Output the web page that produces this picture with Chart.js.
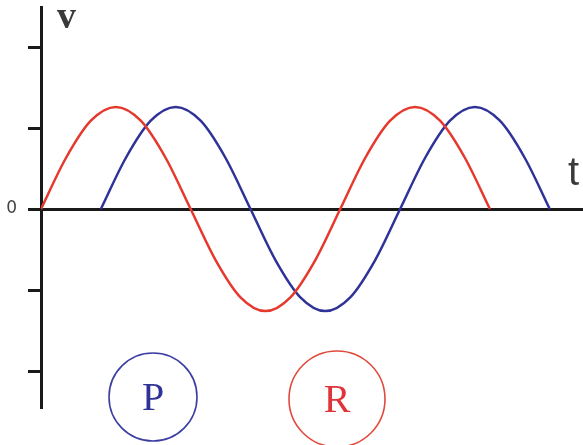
<!DOCTYPE html>
<html>
<head>
<meta charset="utf-8">
<script src="https://cdn.jsdelivr.net/npm/chart.js@4/dist/chart.umd.min.js"></script>
<style>
    html, body { margin: 0; padding: 0; background: #fff; }
    #wrap { width: 583px; height: 445px; position: relative; }
</style>
</head>
<body>
<div id="wrap"><canvas id="waveChart"></canvas></div>
<script>
// phase angle in degrees, voltage in tick units
const redX  = [0, 30, 60, 90, 120, 150, 180, 210, 240, 270, 300, 330, 360, 390, 420, 450, 480, 510, 540];
const redV  = [0, 0.63, 1.09, 1.26, 1.09, 0.63, 0, -0.63, -1.09, -1.26, -1.09, -0.63, 0, 0.63, 1.09, 1.26, 1.09, 0.63, 0];
const blueX = [72, 102, 132, 162, 192, 222, 252, 282, 312, 342, 372, 402, 432, 462, 492, 522, 552, 582, 612];
const blueV = [0, 0.63, 1.09, 1.26, 1.09, 0.63, 0, -0.63, -1.09, -1.26, -1.09, -0.63, 0, 0.63, 1.09, 1.26, 1.09, 0.63, 0];
const yTicks = [-2, -1, 0, 1, 2];
const legendItems = ['P', 'R'];

const redCol  = '#e5392d';
const blueCol = '#2f3397';
const axisCol = '#1a1a1a';

const toPoints = (xs, ys) => xs.map((x, i) => ({ x, y: ys[i] }));

const labelsPlugin = {
    id: 'waveLabels',
    afterDraw(chart) {
        const { ctx, chartArea } = chart;
        ctx.save();
        ctx.fillStyle = '#3a3a3a';
        ctx.textBaseline = 'alphabetic';
        ctx.font = "bold 38px 'Liberation Serif', serif";
        ctx.fillText('v', chartArea.left + 16, chartArea.top + 21);
        ctx.font = "40px 'Liberation Sans', sans-serif";
        ctx.fillText('t', 568, 185);

        // circled legend letters
        const circles = [
            { cx: 153, cy: 397, r: 44, col: '#3b3fa3', txt: '#2f3397' },
            { cx: 337, cy: 399, r: 48, col: '#e2493d', txt: '#e0333a' }
        ];
        ctx.textAlign = 'center';
        ctx.textBaseline = 'middle';
        ctx.font = "40px 'Liberation Serif', serif";
        legendItems.forEach((t, i) => {
            const c = circles[i];
            ctx.beginPath();
            ctx.strokeStyle = c.col;
            ctx.lineWidth = 1.6;
            ctx.arc(c.cx, c.cy, c.r, 0, Math.PI * 2);
            ctx.stroke();
            ctx.fillStyle = c.txt;
            ctx.fillText(t, c.cx, c.cy + 2);
        });
        ctx.restore();
    }
};

new Chart(document.getElementById('waveChart'), {
    type: 'line',
    data: {
        datasets: [
            {
                label: 'R',
                data: toPoints(redX, redV),
                borderColor: redCol,
                borderWidth: 2.5,
                pointRadius: 0,
                cubicInterpolationMode: 'monotone',
                fill: false
            },
            {
                label: 'P',
                data: toPoints(blueX, blueV),
                borderColor: blueCol,
                borderWidth: 2.5,
                pointRadius: 0,
                cubicInterpolationMode: 'monotone',
                fill: false
            }
        ]
    },
    options: {
        responsive: true,
        maintainAspectRatio: false,
        animation: false,
        layout: { padding: { top: 7, bottom: 38, left: 0, right: 0 } },
        plugins: {
            legend: { display: false },
            tooltip: { enabled: false }
        },
        scales: {
            x: {
                type: 'linear',
                min: 0,
                max: 652,
                position: { y: 0 },
                ticks: { display: false },
                grid: { display: false },
                border: { display: true, color: axisCol, width: 3 }
            },
            y: {
                type: 'linear',
                min: -2.444,
                max: 2.494,
                afterBuildTicks: s => { s.ticks = yTicks.map(v => ({ value: v })); },
                afterFit: s => {
                    s.width = 41;
                    s.paddingTop = 0;
                    s.paddingBottom = 0;
                },
                ticks: {
                    padding: 11,
                    color: '#444',
                    font: { family: "'DejaVu Sans', sans-serif", size: 17 },
                    callback: v => (v === 0 ? '0' : '')
                },
                grid: {
                    drawOnChartArea: false,
                    drawTicks: true,
                    tickLength: 13,
                    color: axisCol,
                    lineWidth: 3
                },
                border: { display: true, color: axisCol, width: 3 }
            }
        }
    },
    plugins: [labelsPlugin]
});
</script>
</body>
</html>
